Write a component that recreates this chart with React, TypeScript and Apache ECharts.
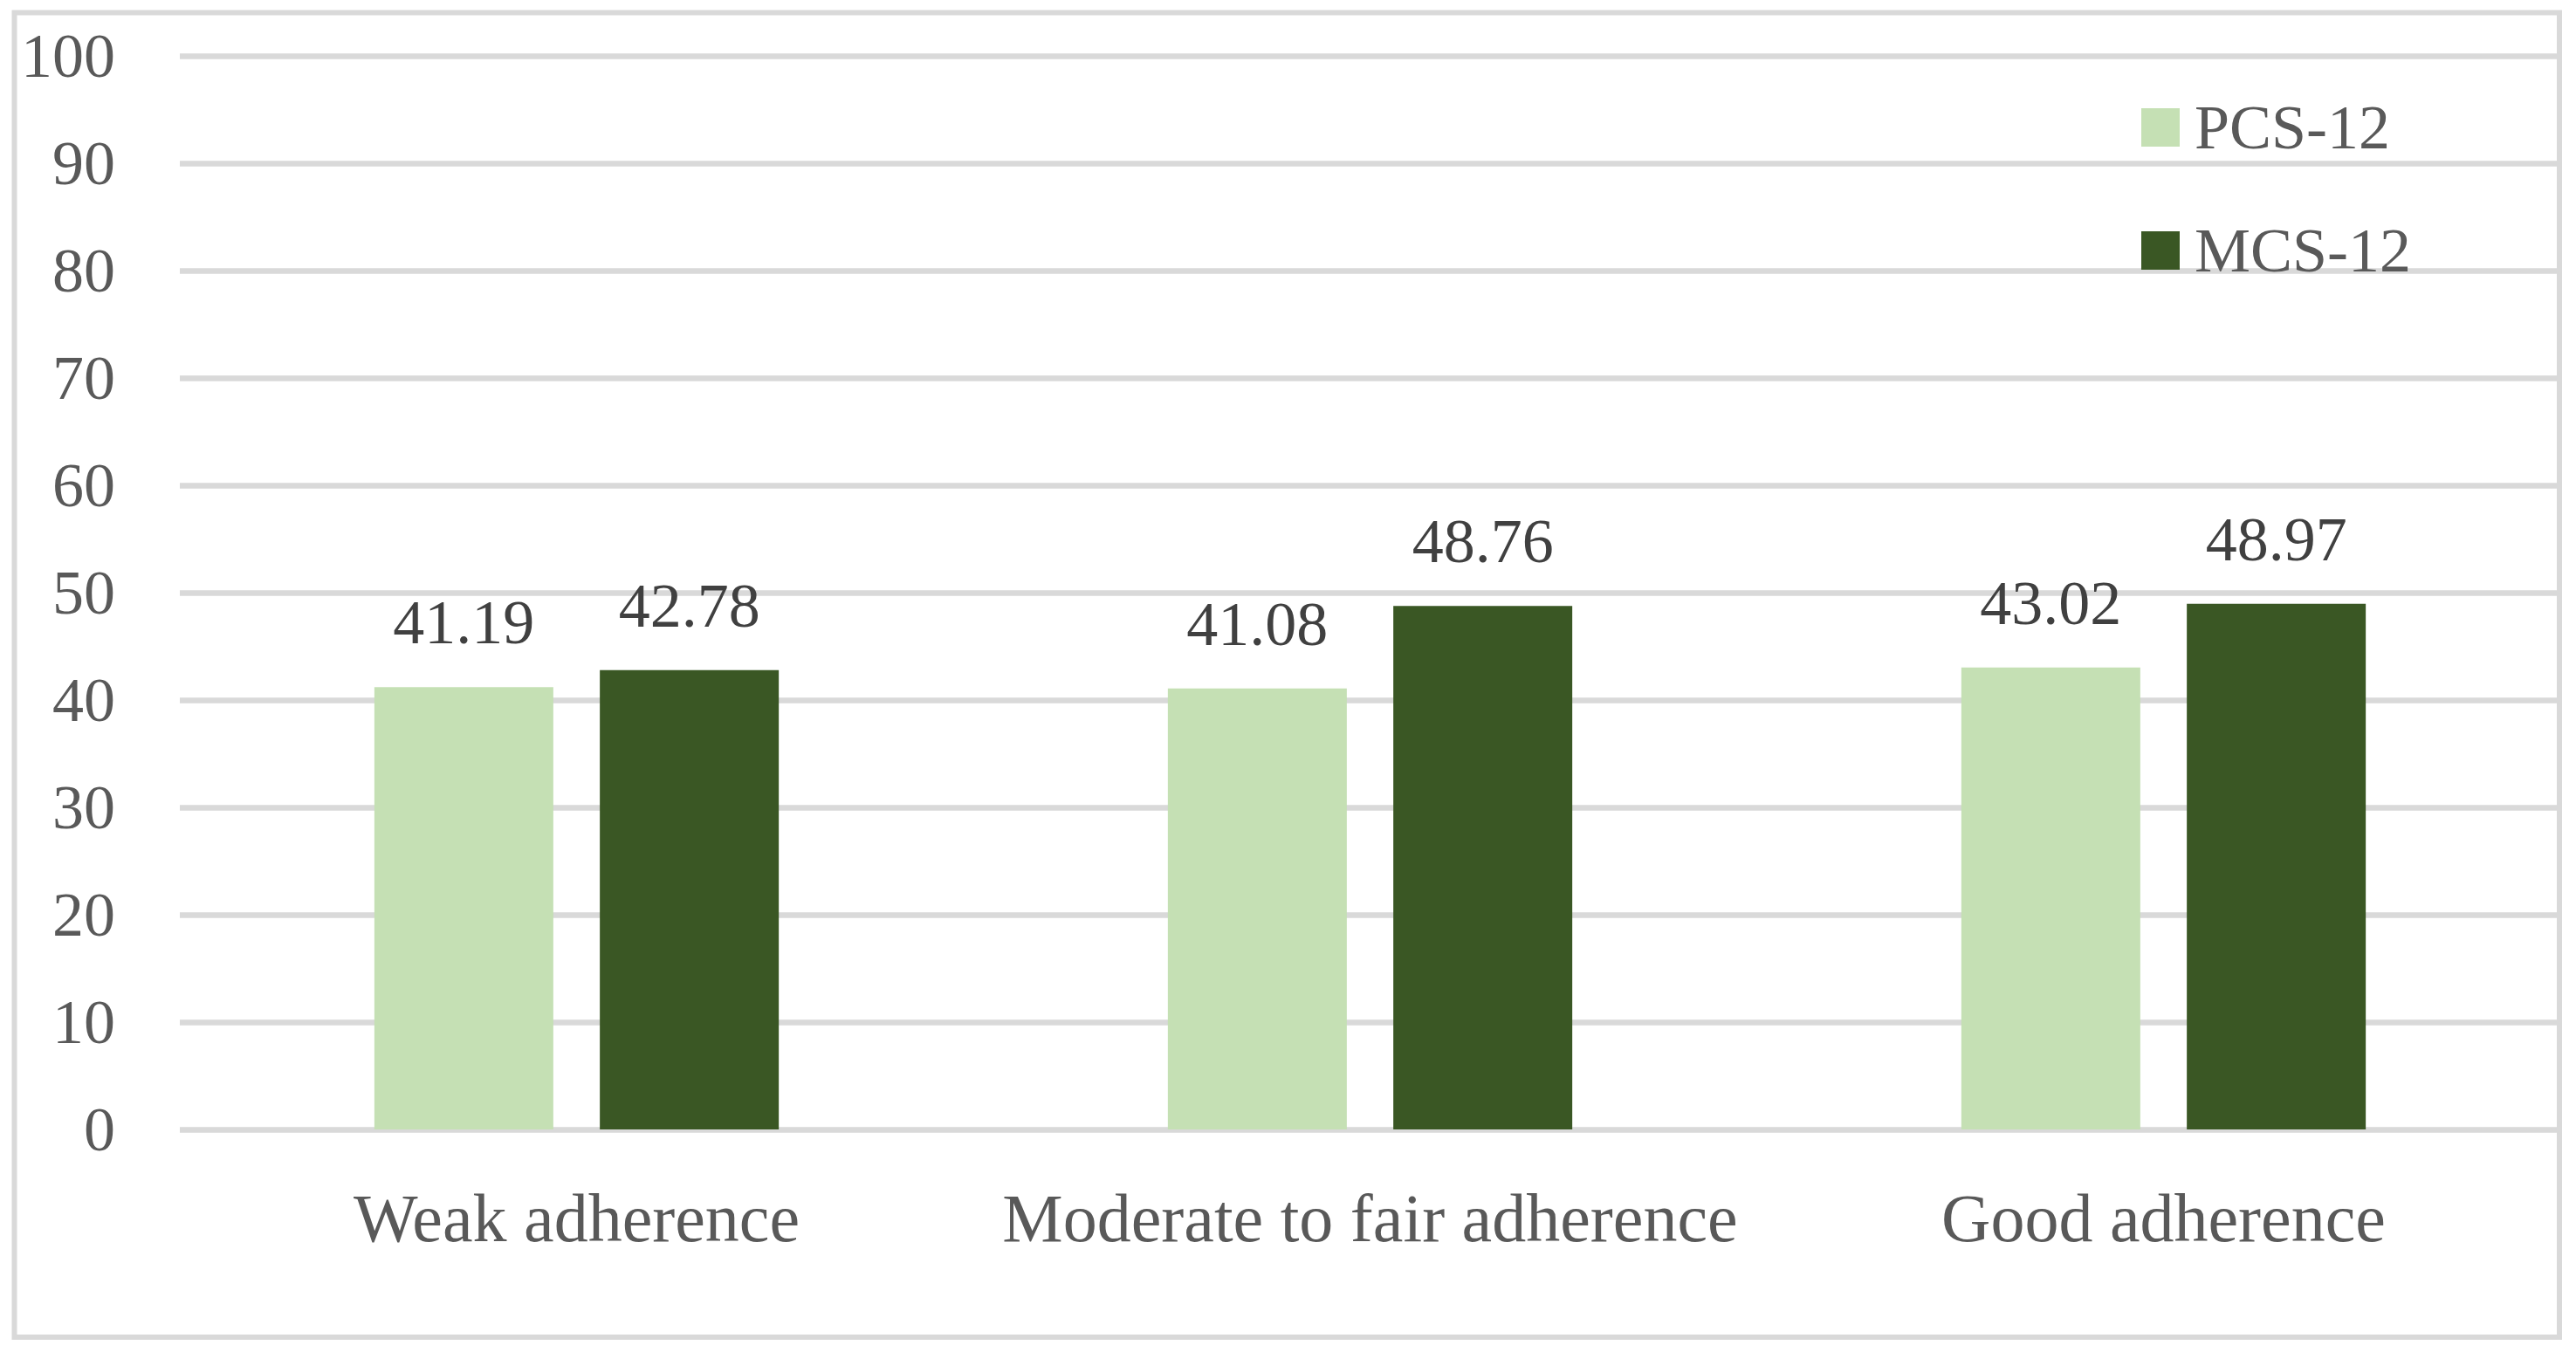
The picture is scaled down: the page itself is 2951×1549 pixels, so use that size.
import React, { useEffect, useRef } from "react";
import * as echarts from "echarts";

const categories = ["Weak adherence", "Moderate to fair adherence", "Good adherence"];
const seriesNames = ["PCS-12", "MCS-12"];
const pcs12 = [41.19, 41.08, 43.02];
const mcs12 = [42.78, 48.76, 48.97];
const yMin = 0;
const yMax = 100;
const yStep = 10;

const FONT = "'Liberation Serif', 'Times New Roman', serif";
const GRID_COLOR = "#d9d9d9";
const LABEL_COLOR = "#595959";
const VALUE_COLOR = "#404040";
const LIGHT = "#c5e0b4";
const DARK = "#3a5724";

export default function App() {
  const ref = useRef<HTMLDivElement>(null);
  useEffect(() => {
    document.body.style.margin = "0";
    const chart = echarts.init(ref.current!, null, { renderer: "svg" });
    const labelCfg = {
      show: true,
      position: "top",
      distance: 38,
      color: VALUE_COLOR,
      fontSize: 72,
      fontFamily: FONT,
    };
    chart.setOption({
      animation: false,
      backgroundColor: "#ffffff",
      textStyle: { fontFamily: FONT },
      grid: { left: 206, right: 18, top: 64, bottom: 255, containLabel: false },
      legend: {
        orient: "vertical",
        left: 2448,
        top: 105,
        itemWidth: 44,
        itemHeight: 44,
        itemGap: 69,
        icon: "rect",
        data: seriesNames,
        textStyle: {
          fontSize: 72,
          color: LABEL_COLOR,
          fontFamily: FONT,
          padding: [0, 0, 0, 12],
        },
      },
      xAxis: {
        type: "category",
        data: categories,
        axisLine: { show: false },
        axisTick: { show: false },
        axisLabel: {
          margin: 62,
          fontSize: 78,
          color: LABEL_COLOR,
          fontFamily: FONT,
          interval: 0,
        },
      },
      yAxis: {
        type: "value",
        min: yMin,
        max: yMax,
        interval: yStep,
        axisLine: { show: false },
        axisTick: { show: false },
        axisLabel: {
          margin: 74,
          fontSize: 72,
          color: LABEL_COLOR,
          fontFamily: FONT,
        },
        splitLine: { lineStyle: { color: GRID_COLOR, width: 6.5 } },
      },
      series: [
        {
          name: seriesNames[0],
          type: "bar",
          data: pcs12,
          barWidth: 205,
          barGap: "26%",
          itemStyle: { color: LIGHT },
          label: labelCfg,
        },
        {
          name: seriesNames[1],
          type: "bar",
          data: mcs12,
          barWidth: 205,
          barGap: "26%",
          itemStyle: { color: DARK },
          label: labelCfg,
        },
      ],
      graphic: [
        {
          type: "rect",
          shape: { x: 16.5, y: 14.5, width: 2915.5, height: 1517.5 },
          style: { fill: "none", stroke: GRID_COLOR, lineWidth: 6 },
          z: 100,
        },
      ],
    });
    return () => chart.dispose();
  }, []);
  return <div ref={ref} style={{ width: 2951, height: 1549 }} />;
}
